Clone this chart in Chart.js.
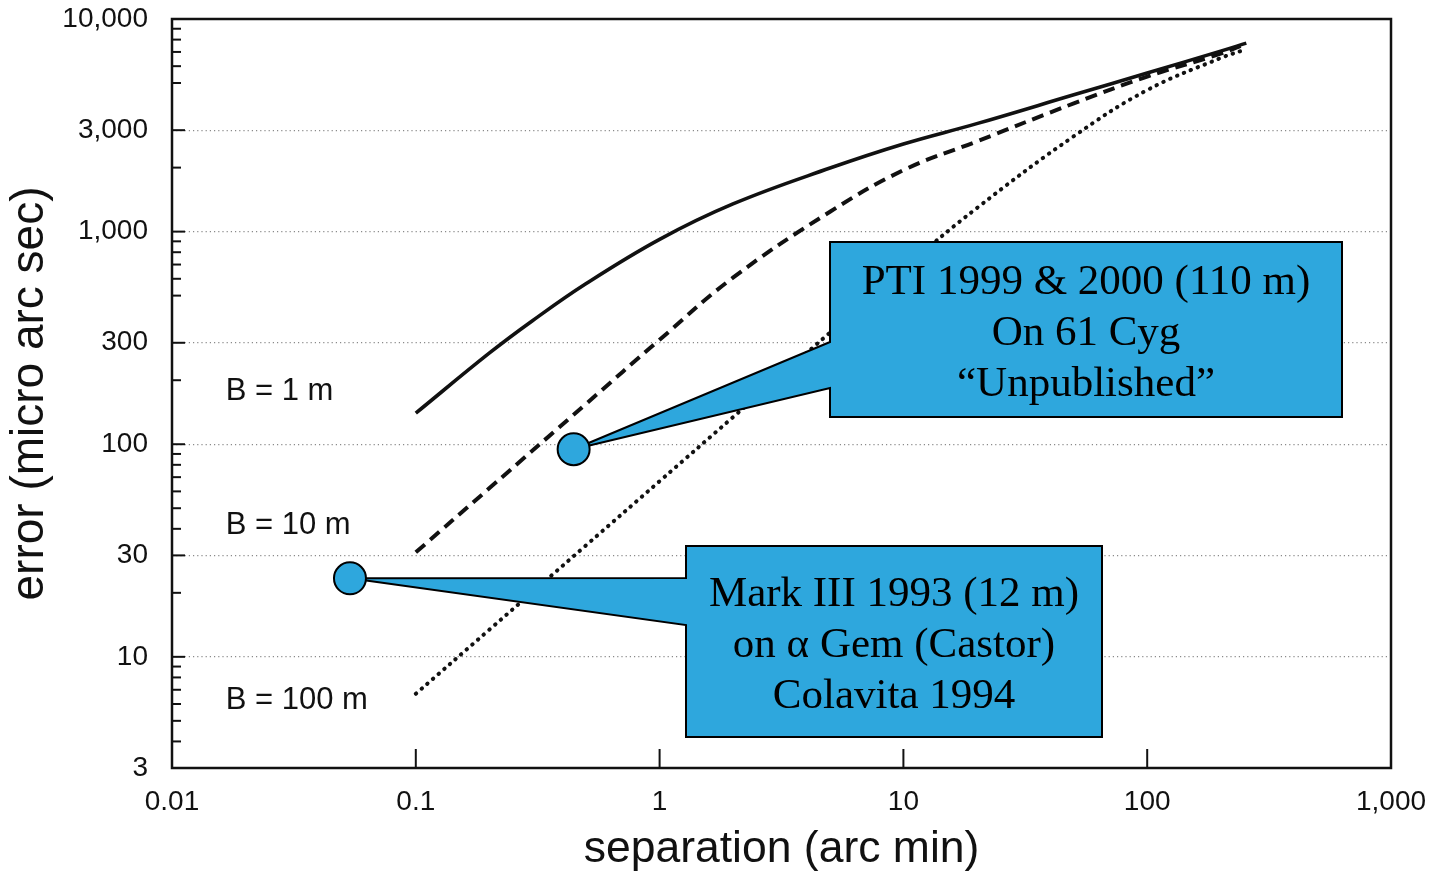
<!DOCTYPE html>
<html>
<head>
<meta charset="utf-8">
<script src="https://cdn.jsdelivr.net/npm/chart.js@4.4.1/dist/chart.umd.min.js"></script>
<style>
  html, body { margin: 0; padding: 0; background: #fff; }
  #wrap { width: 1437px; height: 872px; }
</style>
</head>
<body>
<div id="wrap"><canvas id="errChart" width="1437" height="872"></canvas></div>
<script>
// Astrometric error vs separation, log-log, for three baselines

// B = 1 m (solid)
const sepB1 = [0.1, 0.2, 0.3, 0.5, 1, 2, 5, 10, 20, 50, 100, 200, 255];
const errB1 = [140, 268, 380, 570, 920, 1350, 1990, 2583, 3220, 4400, 5570, 7060, 7700];

// B = 10 m (dashed)
const sepB10 = [0.1, 0.2, 0.5, 1, 2, 5, 10, 20, 50, 100, 200, 255];
const errB10 = [31, 62, 155, 310, 607, 1240, 1945, 2655, 4010, 5360, 6870, 7650];

// B = 100 m (dotted)
const sepB100 = [0.1, 0.2, 0.5, 1, 2, 5, 10, 20, 50, 100, 200, 245];
const errB100 = [6.7, 13.4, 33.5, 67, 134, 335, 670, 1290, 2810, 4630, 6550, 7100];

// measured points (PTI on 61 Cyg, Mark III on alpha Gem)
const pointSep = [0.444, 0.0537];
const pointErr = [94.7, 23.4];

// axis ticks
const xTickValues = [0.01, 0.1, 1, 10, 100, 1000];
const yTickValues = [3, 10, 30, 100, 300, 1000, 3000, 10000];
const yGridValues = [10, 30, 100, 300, 1000, 3000];
const yMinorTicks = [9000, 8000, 7000, 6000, 5000, 2000, 900, 800, 700, 600, 500, 200,
                     90, 80, 70, 60, 50, 40, 20, 9, 8, 7, 6, 5, 4];

const curveLabels = ['B = 1 m', 'B = 10 m', 'B = 100 m'];
const calloutText = [
    ['PTI 1999 & 2000 (110 m)', 'On 61 Cyg', '\u201CUnpublished\u201D'],
    ['Mark III 1993 (12 m)', 'on \u03B1 Gem (Castor)', 'Colavita 1994']
];

const toXY = (xs, ys) => xs.map((x, i) => ({ x: x, y: ys[i] }));

const BLUE = '#2ea7dd';
const SANS = '"Liberation Sans", Arial, Helvetica, sans-serif';
const SERIF = '"Liberation Serif", "Times New Roman", serif';

// callout boxes (pixel layout) and where their pointer leaves the box
const calloutBoxes = [
    { left: 830, top: 242, right: 1342, bottom: 417, notchTop: 342, notchBottom: 388, point: 0, lineGap: 51, shift: 4 },
    { left: 686, top: 546, right: 1102, bottom: 737, notchTop: 578, notchBottom: 625, point: 1, lineGap: 51, shift: 4 }
];

// curve labels at left of plot
const labelPos = [
    { x: 0.0166, y: 177 },
    { x: 0.0166, y: 41.6 },
    { x: 0.0166, y: 6.24 }
];

const framePlugin = {
    id: 'frameAndTicks',
    afterDatasetsDraw(chart) {
        const { ctx, chartArea: a, scales } = chart;
        ctx.save();
        ctx.strokeStyle = '#111';
        // inward ticks on y axis
        ctx.lineWidth = 2;
        yTickValues.forEach(v => {
            const py = scales.y.getPixelForValue(v);
            ctx.beginPath(); ctx.moveTo(a.left, py); ctx.lineTo(a.left + 13, py); ctx.stroke();
        });
        yMinorTicks.forEach(v => {
            const py = scales.y.getPixelForValue(v);
            ctx.beginPath(); ctx.moveTo(a.left, py); ctx.lineTo(a.left + 9, py); ctx.stroke();
        });
        // inward ticks on x axis
        xTickValues.slice(1, -1).forEach(v => {
            const px = scales.x.getPixelForValue(v);
            ctx.beginPath(); ctx.moveTo(px, a.bottom); ctx.lineTo(px, a.bottom - 19); ctx.stroke();
        });
        // frame
        ctx.lineWidth = 2.5;
        ctx.strokeRect(a.left, a.top, a.right - a.left, a.bottom - a.top);

        // curve labels
        ctx.fillStyle = '#111';
        ctx.font = '31px ' + SANS;
        ctx.textBaseline = 'middle';
        ctx.textAlign = 'left';
        curveLabels.forEach((t, i) => {
            ctx.fillText(t, scales.x.getPixelForValue(labelPos[i].x), scales.y.getPixelForValue(labelPos[i].y));
        });
        ctx.restore();
    },
    beforeDatasetDraw(chart, args) {
        if (args.index !== 0) return;
        const { ctx, scales } = chart;
        ctx.save();
        calloutBoxes.forEach((b, i) => {
            const tx = scales.x.getPixelForValue(pointSep[b.point]);
            const ty = scales.y.getPixelForValue(pointErr[b.point]);
            ctx.beginPath();
            ctx.moveTo(b.left, b.top);
            ctx.lineTo(b.right, b.top);
            ctx.lineTo(b.right, b.bottom);
            ctx.lineTo(b.left, b.bottom);
            ctx.lineTo(b.left, b.notchBottom);
            ctx.lineTo(tx, ty);
            ctx.lineTo(b.left, b.notchTop);
            ctx.closePath();
            ctx.fillStyle = BLUE;
            ctx.fill();
            ctx.lineWidth = 2;
            ctx.strokeStyle = '#000';
            ctx.lineJoin = 'miter';
            ctx.stroke();

            ctx.fillStyle = '#000';
            ctx.font = '43px ' + SERIF;
            ctx.textAlign = 'center';
            ctx.textBaseline = 'middle';
            const cx = (b.left + b.right) / 2;
            const cy = (b.top + b.bottom) / 2 + b.shift;
            calloutText[i].forEach((line, k) => {
                ctx.fillText(line, cx, cy + (k - 1) * b.lineGap);
            });
        });
        ctx.restore();
    }
};

const ctx = document.getElementById('errChart');
new Chart(ctx, {
    type: 'scatter',
    data: {
        datasets: [
            {
                label: 'measurements',
                data: toXY(pointSep, pointErr),
                pointRadius: 16,
                pointHoverRadius: 16,
                pointBackgroundColor: BLUE,
                pointBorderColor: '#000',
                pointBorderWidth: 2,
                showLine: false
            },
            {
                label: 'B = 1 m',
                data: toXY(sepB1, errB1),
                showLine: true,
                borderColor: '#111',
                borderWidth: 3.6,
                pointRadius: 0,
                tension: 0.4
            },
            {
                label: 'B = 10 m',
                data: toXY(sepB10, errB10),
                showLine: true,
                borderColor: '#111',
                borderWidth: 4,
                borderDash: [12, 7],
                pointRadius: 0,
                tension: 0.4
            },
            {
                label: 'B = 100 m',
                data: toXY(sepB100, errB100),
                showLine: true,
                borderColor: '#111',
                borderWidth: 4,
                borderDash: [0.5, 7],
                borderCapStyle: 'round',
                pointRadius: 0,
                tension: 0.4
            }
        ]
    },
    options: {
        responsive: false,
        animation: false,
        layout: { padding: { top: 19, right: 46, left: 0, bottom: 0 } },
        plugins: {
            legend: { display: false },
            tooltip: { enabled: false }
        },
        scales: {
            x: {
                type: 'logarithmic',
                min: 0.01,
                max: 1000,
                afterBuildTicks: scale => { scale.ticks = xTickValues.map(v => ({ value: v })); },
                afterFit: scale => {
                    scale.height = 104;
                    scale.paddingLeft = 0;
                    scale.paddingRight = 0;
                },
                grid: { display: false, drawTicks: false },
                border: { display: false },
                ticks: {
                    autoSkip: false,
                    maxRotation: 0,
                    padding: 17,
                    color: '#111',
                    font: { family: SANS, size: 28 },
                    callback: v => Number(v).toLocaleString('en-US')
                },
                title: {
                    display: true,
                    text: 'separation (arc min)',
                    color: '#111',
                    font: { family: SANS, size: 44.5, lineHeight: 1 },
                    padding: { top: 0, bottom: 0 }
                }
            },
            y: {
                type: 'logarithmic',
                min: 3,
                max: 10000,
                afterBuildTicks: scale => { scale.ticks = yTickValues.map(v => ({ value: v })); },
                afterFit: scale => {
                    scale.width = 172;
                    scale.paddingTop = 0;
                    scale.paddingBottom = 0;
                },
                grid: {
                    drawTicks: false,
                    lineWidth: 1.2,
                    color: c => yGridValues.includes(c.tick && c.tick.value) ? '#8a8a8a' : 'rgba(0,0,0,0)'
                },
                border: { display: false, dash: [1.2, 3] },
                ticks: {
                    autoSkip: false,
                    padding: 24,
                    color: '#111',
                    font: { family: SANS, size: 28 },
                    callback: v => Number(v).toLocaleString('en-US')
                },
                title: {
                    display: true,
                    text: 'error (micro arc sec)',
                    color: '#111',
                    font: { family: SANS, size: 46, lineHeight: 1 },
                    padding: { top: 7, bottom: 0 }
                }
            }
        }
    },
    plugins: [framePlugin]
});
</script>
</body>
</html>
